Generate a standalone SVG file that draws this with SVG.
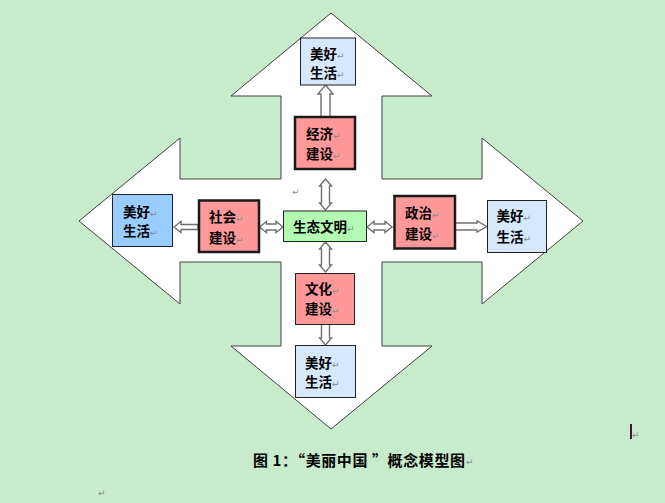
<svg xmlns="http://www.w3.org/2000/svg" width="665" height="503" viewBox="0 0 665 503">
<style>
.t{font-family:"Noto Sans CJK SC","Noto Sans CJK TC",sans-serif;font-size:13.5px;font-weight:700;fill:#000}
.r{font-family:"DejaVu Sans",sans-serif;font-size:9px;fill:#8a8a8a;font-weight:400}
.pink{fill:#ff9999}
.thick{stroke:#1a1a1a;stroke-width:2.5}
.thin{stroke:#222;stroke-width:1}
.lb{fill:#d5e8fc}
.arr{fill:#fff;stroke:#707070;stroke-width:1.4;stroke-linejoin:miter}
</style>
<rect width="665" height="503" fill="#c7ebcb"/>
<g id="cross">
<polygon points="331,13 432,96 382,96 382,179 482,179 482,138 583,221 482,304 482,262 382,262 382,346 432,346 331,429 231,346 281,346 281,262 180,262 180,304 79,221 180,138 180,179 281,179 281,96 231,96" fill="#fff" stroke="#404040" stroke-width="1"/>
</g>
<g id="connectors">
<path class="arr" d="M325.5,85 L333,94 L330,94 L330,117 L321,117 L321,94 L318,94 Z"/>
<path class="arr" d="M325.5,179 L331.5,186 L329.5,186 L329.5,203 L331.5,203 L325.5,210 L319.5,203 L321.5,203 L321.5,186 L319.5,186 Z"/>
<path class="arr" d="M325.5,242 L331.5,249 L329.5,249 L329.5,265 L331.5,265 L325.5,272 L319.5,265 L321.5,265 L321.5,249 L319.5,249 Z"/>
<path class="arr" d="M325.5,345 L331.5,338 L329.5,338 L329.5,324 L321.5,324 L321.5,338 L319.5,338 Z"/>
<path class="arr" d="M174,227 L181,221.5 L181,224.5 L198,224.5 L198,229.5 L181,229.5 L181,232.5 Z"/>
<path class="arr" d="M259.5,227 L266.5,221.5 L266.5,224 L276,224 L276,221.5 L283,227 L276,232.5 L276,230 L266.5,230 L266.5,232.5 Z"/>
<path class="arr" d="M367,227 L374,221.5 L374,224 L385,224 L385,221.5 L392,227 L385,232.5 L385,230 L374,230 L374,232.5 Z"/>
<path class="arr" d="M487,226.5 L477,221 L477,223 L451,223 L451,230 L477,230 L477,232 Z"/>
</g>
<g id="top-life">
<rect x="300.5" y="38" width="55" height="47" class="lb thin"/>
<text class="t" x="310" y="58.5">美好<tspan class="r">↵</tspan></text>
<text class="t" x="310" y="78">生活<tspan class="r">↵</tspan></text>
</g>
<g id="economy">
<rect x="295" y="117" width="60" height="52" class="pink thick"/>
<text class="t" x="306" y="139">经济<tspan class="r">↵</tspan></text>
<text class="t" x="306" y="158.5">建设<tspan class="r">↵</tspan></text>
</g>
<g id="ecology">
<rect x="283.5" y="211" width="83" height="30.5" fill="#b3fbb3" class="thin"/>
<text class="t" x="293" y="231.5">生态文明<tspan class="r">↵</tspan></text>
</g>
<g id="culture">
<rect x="295.5" y="273.5" width="59" height="51" class="pink thin"/>
<text class="t" x="305" y="294">文化<tspan class="r">↵</tspan></text>
<text class="t" x="305" y="314">建设<tspan class="r">↵</tspan></text>
</g>
<g id="bottom-life">
<rect x="295.5" y="345.5" width="60" height="52" class="lb thin"/>
<text class="t" x="305" y="367.5">美好<tspan class="r">↵</tspan></text>
<text class="t" x="305" y="387">生活<tspan class="r">↵</tspan></text>
</g>
<g id="left-life">
<rect x="112.5" y="194.5" width="60" height="52" fill="#99ccff" class="thin"/>
<text class="t" x="123" y="217">美好<tspan class="r">↵</tspan></text>
<text class="t" x="123" y="236">生活<tspan class="r">↵</tspan></text>
</g>
<g id="society">
<rect x="199" y="200.5" width="60" height="51.5" class="pink thick"/>
<text class="t" x="209" y="222">社会<tspan class="r">↵</tspan></text>
<text class="t" x="209" y="242.5">建设<tspan class="r">↵</tspan></text>
</g>
<g id="politics">
<rect x="394.5" y="196" width="60.5" height="52.5" class="pink thick"/>
<text class="t" x="405" y="217.5">政治<tspan class="r">↵</tspan></text>
<text class="t" x="405" y="238.5">建设<tspan class="r">↵</tspan></text>
</g>
<g id="right-life">
<rect x="487.5" y="200.5" width="59" height="52" class="lb thin"/>
<text class="t" x="496.5" y="221">美好<tspan class="r">↵</tspan></text>
<text class="t" x="496.5" y="241.5">生活<tspan class="r">↵</tspan></text>
</g>
<g id="marks">
<text class="r" x="292" y="195">↵</text>
<rect x="630" y="424" width="2" height="15" fill="#3a1a3a"/>
<text class="r" x="632" y="438">↵</text>
<text class="r" x="98" y="496">↵</text>
</g>
<g id="caption">
<text class="t" style="font-size:15px" x="253" y="466" textLength="212" lengthAdjust="spacing">图 1：“美丽中国 ”概念模型图</text>
<text class="r" x="466" y="465">↵</text>
</g>
</svg>
